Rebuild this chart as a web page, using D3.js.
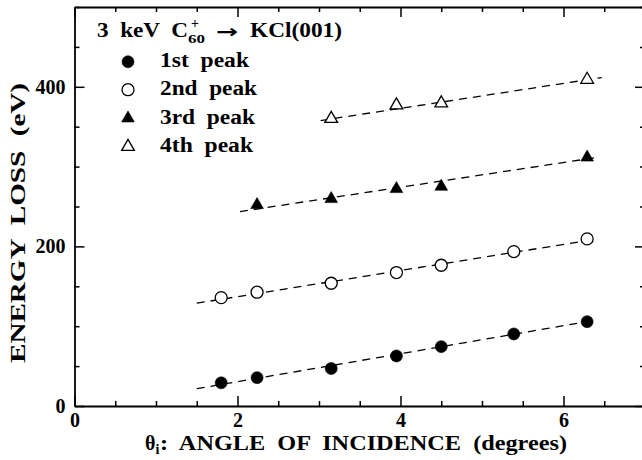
<!DOCTYPE html>
<html>
<head>
<meta charset="utf-8">
<script src="https://cdn.jsdelivr.net/npm/d3@7"></script>
<style>
  body { margin: 0; background: #fff; }
  text { font-family: "Liberation Serif", "Times New Roman", serif; font-weight: bold; fill: #000; white-space: pre; }
</style>
</head>
<body>
<svg id="chart" width="642" height="460"></svg>
<script>
// values
const angles12 = [1.80, 2.24, 3.15, 3.95, 4.50, 5.39, 6.29]
const peak1 = [29, 35.5, 47, 62.7, 74.4, 90.3, 105.7]
const peak2 = [135.8, 142.6, 153.8, 167.2, 176.4, 193.5, 209.4]
const angles3 = [2.24, 3.15, 3.95, 4.50, 6.29]
const peak3 = [252, 259.5, 272, 275, 311.5]
const angles4 = [3.15, 3.95, 4.50, 6.29]
const peak4 = [360, 377, 379.5, 409]

// dashed linear fits, [start, end] as [angle, eV]
const fit1 = [[1.50, 21.7], [6.41, 107.8]]
const fit2 = [[1.50, 128.8], [6.42, 209.4]]
const fit3 = [[2.03, 243.6], [6.43, 311.8]]
const fit4 = [[3.02, 357.7], [6.47, 411.6]]

const legendLabels = ['1st  peak', '2nd  peak', '3rd  peak', '4th  peak']

const xTickValues = [0, 0.5, 1, 1.5, 2, 2.5, 3, 3.5, 4, 4.5, 5, 5.5, 6, 6.5, 7]
const xTickLabels = [0, 2, 4, 6]
const yTickValues = [0, 50, 100, 150, 200, 250, 300, 350, 400, 450, 500]
const yTickLabels = [0, 200, 400]

const series = [
  { xs: angles12, ys: peak1, fit: fit1, shape: 'circle', filled: true },
  { xs: angles12, ys: peak2, fit: fit2, shape: 'circle', filled: false },
  { xs: angles3, ys: peak3, fit: fit3, shape: 'triangle', filled: true },
  { xs: angles4, ys: peak4, fit: fit4, shape: 'triangle', filled: false }
]

const plotLeft = 74.5
const plotRight = 645
const plotTop = 7
const plotBottom = 406

const svg = d3.select('#chart')

const x = d3.scaleLinear().domain([0, 7]).range([plotLeft, plotRight])
const y = d3.scaleLinear().domain([0, 500]).range([plotBottom, plotTop])

const symbolFor = (s) =>
  s.shape === 'circle'
    ? d3.symbol().type(d3.symbolCircle).size(Math.PI * 36)
    : d3.symbol().type(d3.symbolTriangle).size(70)

const styleMarker = (sel, s) =>
  sel
    .attr('fill', s.filled ? '#000' : '#fff')
    .attr('stroke', '#000')
    .attr('stroke-width', s.filled ? 0.6 : 1.3)

// fit lines
const line = d3.line().x(d => x(d[0])).y(d => y(d[1]))
svg.append('g')
  .selectAll('path')
  .data(series)
  .enter()
  .append('path')
  .attr('d', d => line(d.fit))
  .attr('fill', 'none')
  .attr('stroke', '#000')
  .attr('stroke-width', 1.3)
  .attr('stroke-dasharray', '8,6')

// markers
series.forEach(s => {
  const pts = s.xs.map((a, i) => [a, s.ys[i]])
  svg.append('g')
    .selectAll('path')
    .data(pts)
    .enter()
    .append('path')
    .attr('d', symbolFor(s)())
    .attr('transform', d => 'translate(' + x(d[0]) + ',' + y(d[1]) + ')')
    .call(sel => styleMarker(sel, s))
})

// axes, ticks pointing inward
const fmtX = d => (xTickLabels.includes(d) ? d : '')
const fmtY = d => (yTickLabels.includes(d) ? d : '')

const gx = svg.append('g')
  .attr('transform', 'translate(0,' + plotBottom + ')')
  .call(d3.axisBottom(x).tickValues(xTickValues).tickFormat(fmtX).tickSize(-5).tickSizeOuter(0).tickPadding(7))
const gxt = svg.append('g')
  .attr('transform', 'translate(0,' + plotTop + ')')
  .call(d3.axisTop(x).tickValues(xTickValues).tickFormat('').tickSize(-5).tickSizeOuter(0))
const gy = svg.append('g')
  .attr('transform', 'translate(' + plotLeft + ',0)')
  .call(d3.axisLeft(y).tickValues(yTickValues).tickFormat(fmtY).tickSize(-5).tickSizeOuter(0).tickPadding(9))
const gyr = svg.append('g')
  .attr('transform', 'translate(' + plotRight + ',0)')
  .call(d3.axisRight(y).tickValues(yTickValues).tickFormat('').tickSize(-5).tickSizeOuter(0))

;[gx, gxt, gy, gyr].forEach(g => {
  g.select('.domain').attr('stroke', '#000').attr('stroke-width', 1.8)
  g.selectAll('.tick line').attr('stroke', '#000').attr('stroke-width', 1.5)
  g.selectAll('text').attr('font-size', 20).attr('font-family', null)
})
gx.selectAll('.tick').filter(d => xTickLabels.includes(d)).select('line').attr('y2', -10)
gxt.selectAll('.tick').filter(d => xTickLabels.includes(d)).select('line').attr('y2', 10)
gy.selectAll('.tick').filter(d => yTickLabels.includes(d)).select('line').attr('x2', 10)
gyr.selectAll('.tick').filter(d => yTickLabels.includes(d)).select('line').attr('x2', -10)

// title: 3 keV C60+ -> KCl(001)
const title = svg.append('text').attr('font-size', 20)
title.append('tspan').attr('x', 97).attr('y', 37)
  .attr('textLength', 91).attr('lengthAdjust', 'spacingAndGlyphs').text('3  keV  C')
title.append('tspan').attr('x', 191).attr('y', 27.5).attr('font-size', 14).text('+')
title.append('tspan').attr('x', 188).attr('y', 43).attr('font-size', 13)
  .attr('textLength', 17).attr('lengthAdjust', 'spacingAndGlyphs').text('60')
title.append('tspan').attr('x', 216).attr('y', 38).attr('font-size', 18)
  .style('font-family', '"DejaVu Sans", sans-serif')
  .attr('textLength', 22).attr('lengthAdjust', 'spacingAndGlyphs').text('→')
title.append('tspan').attr('x', 250).attr('y', 37).attr('font-size', 21)
  .attr('textLength', 92).attr('lengthAdjust', 'spacingAndGlyphs').text('KCl(001)')

// legend
const legendY = [61.7, 89.7, 118.3, 146.7]
const legendW = [89, 97, 95, 93]
series.forEach((s, i) => {
  svg.append('path')
    .attr('d', symbolFor(s)())
    .attr('transform', 'translate(128,' + legendY[i] + ')')
    .call(sel => styleMarker(sel, s))
  svg.append('text')
    .attr('x', 160)
    .attr('y', legendY[i] + 5.5)
    .attr('font-size', 20)
    .attr('textLength', legendW[i])
    .attr('lengthAdjust', 'spacingAndGlyphs')
    .text(legendLabels[i])
})

// axis titles
const xt = svg.append('text').attr('font-size', 20)
xt.append('tspan').attr('x', 145).attr('y', 450).text('θ')
xt.append('tspan').attr('font-size', 14).attr('dy', 4).text('i')
xt.append('tspan').attr('x', 160).attr('y', 450)
  .attr('textLength', 407).attr('lengthAdjust', 'spacingAndGlyphs')
  .text(':  ANGLE  OF  INCIDENCE  (degrees)')

svg.append('text')
  .attr('transform', 'translate(25,223) rotate(-90)')
  .attr('text-anchor', 'middle')
  .attr('font-size', 20)
  .attr('textLength', 280)
  .attr('lengthAdjust', 'spacingAndGlyphs')
  .text('ENERGY  LOSS  (eV)')
</script>
</body>
</html>
